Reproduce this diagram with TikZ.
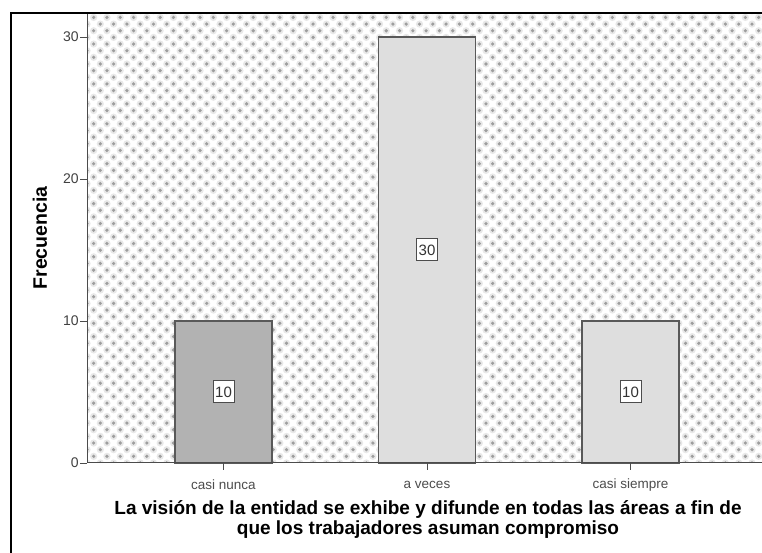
\documentclass[tikz,border=0pt]{standalone}
\usepackage{fontspec}
\setmainfont{Liberation Sans}
\usetikzlibrary{calc}

\begin{document}
\begin{tikzpicture}[x=1pt,y=1pt,
  barra/.style={draw=black!65, line width=1.3pt},
  valor/.style={draw=black!70, fill=white, line width=1pt, inner sep=1pt,
    minimum width=21pt, minimum height=22pt, text=black!80,
    font=\fontsize{15}{15}\selectfont},
  categ/.style={text=black!70, font=\fontsize{13.5}{13.5}\selectfont}]
  \useasboundingbox (0,0) rectangle (762,553);

  % Fondo punteado
  \begin{scope}
    \clip (87,90) rectangle (762,539);
    \fill[white] (87,90) rectangle (762,539);
    \foreach \j in {0,...,68}{
      \pgfmathsetmacro{\desp}{mod(\j,2)*6.65}
      \foreach \i in {0,...,51}{
        \fill[black!9] ({87+\desp+13.3*\i},{90+6.65*\j}) circle (3.6);
        \fill[black!38] ({87+\desp+13.3*\i},{90+6.65*\j}) circle (1.8);
      }
    }
  \end{scope}

  % Barras
  \foreach \xc/\v/\col/\n in {223.5/10/black!30/1, 427/30/black!13/2, 630.5/10/black!13/3}{
    \draw[barra, fill=\col] ({\xc-48.5},90) rectangle ({\xc+48.5},{90+14.2*\v});
    \node[valor] (v\n) at (\xc,{90+7.1*\v}) {\v};
  }

  % Ejes
  \draw[black!70, line width=1pt] (87,539) -- (87,90) -- (762,90);

  % Marcas en el eje vertical
  \foreach \y in {0,10,20,30}
    \draw[black!70, line width=0.8pt] (87,{90+14.2*\y}) -- (80,{90+14.2*\y})
      node[left, inner sep=1pt, text=black!75, font=\fontsize{14}{14}\selectfont] {\y};

  % Marcas y etiquetas de categorias
  \foreach \xc/\cat/\n in {223.5/casi nunca/1, 427/a veces/2, 630.5/casi siempre/3}{
    \draw[black!70, line width=0.8pt] (\xc,90) -- (\xc,83);
    \node[categ] (c\n) at (\xc,68) {\cat};
  }

  % Marco exterior
  \draw[line width=1.8pt] (11,0) -- (11,540) -- (762,540);

  % Titulos
  \node[rotate=90, font=\bfseries\fontsize{19.5}{19.5}\selectfont] (frec) at (40,315) {Frecuencia};
  \node[align=center, font=\bfseries\fontsize{19}{20}\selectfont] (titulo) at (428,33)
    {La visión de la entidad se exhibe y difunde en todas las áreas a fin de\\
     que los trabajadores asuman compromiso};
\end{tikzpicture}
\end{document}
